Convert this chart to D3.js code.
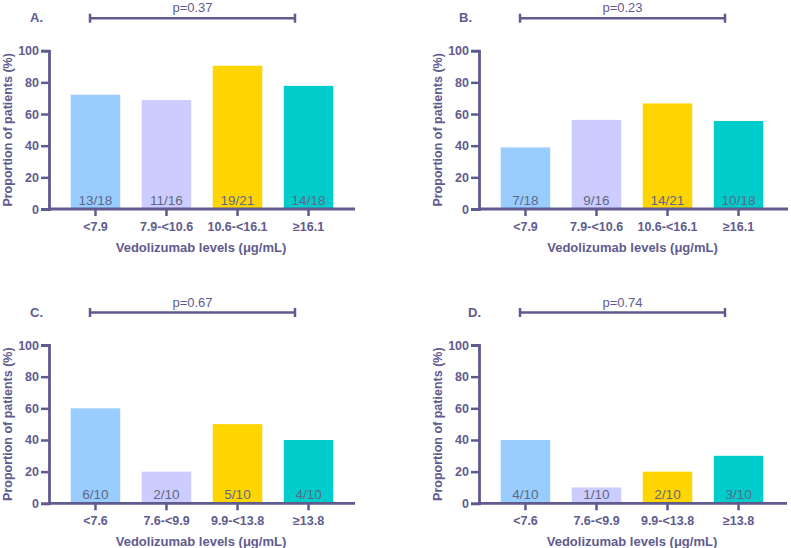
<!DOCTYPE html>
<html>
<head>
<meta charset="utf-8">
<script src="https://cdn.jsdelivr.net/npm/d3@7"></script>
<style>
  body { margin: 0; background: #fff; }
  svg { font-family: "Liberation Sans", Arial, sans-serif; }
</style>
</head>
<body>
<svg id="drawing_region" width="791" height="548"></svg>
<script>
// data
const catsAB = ["<7.9", "7.9-<10.6", "10.6-<16.1", "\u226516.1"];
const catsCD = ["<7.6", "7.6-<9.9", "9.9-<13.8", "\u226513.8"];
const fracA = ["13/18", "11/16", "19/21", "14/18"];
const fracB = ["7/18", "9/16", "14/21", "10/18"];
const fracC = ["6/10", "2/10", "5/10", "4/10"];
const fracD = ["4/10", "1/10", "2/10", "3/10"];
const valuesA = [72.2, 68.8, 90.5, 77.8];
const valuesB = [38.9, 56.3, 66.7, 55.6];
const valuesC = [60, 20, 50, 40];
const valuesD = [40, 10, 20, 30];
const pValues = ["p=0.37", "p=0.23", "p=0.67", "p=0.74"];
const panelLabels = ["A.", "B.", "C.", "D."];
const yTicks = [0, 20, 40, 60, 80, 100];
const colors = ["#99ccff", "#ccccff", "#ffd500", "#00cccc"];

const axisColor = "#5f5b8f";
const fracColor = "#5e6884";

const panels = [
  { label: panelLabels[0], cats: catsAB, values: valuesA, frac: fracA, p: pValues[0], x: 49,  y: 50.7, w: 306, lab: -19 },
  { label: panelLabels[1], cats: catsAB, values: valuesB, frac: fracB, p: pValues[1], x: 479, y: 50.7, w: 309, lab: -20 },
  { label: panelLabels[2], cats: catsCD, values: valuesC, frac: fracC, p: pValues[2], x: 49,  y: 345,  w: 306, lab: -19 },
  { label: panelLabels[3], cats: catsCD, values: valuesD, frac: fracD, p: pValues[3], x: 479, y: 345,  w: 308, lab: -11 }
];

const svg = d3.select("#drawing_region");
const plotH = 158.3;

panels.forEach(cfg => drawPanel(cfg));

function drawPanel(cfg) {
  const g = svg.append("g").attr("transform", `translate(${cfg.x},${cfg.y})`);

  const xScale = d3.scaleBand()
    .domain(cfg.cats)
    .range([0, 306])
    .paddingInner(0.303)
    .paddingOuter(0.306);
  const yScale = d3.scaleLinear().domain([0, 100]).range([plotH, 0]);

  const rows = cfg.cats.map((c, i) => ({ cat: c, value: cfg.values[i], frac: cfg.frac[i], color: colors[i] }));

  // bars
  g.selectAll(".bar")
    .data(rows)
    .enter()
    .append("rect")
    .attr("x", d => xScale(d.cat))
    .attr("y", d => yScale(d.value))
    .attr("width", xScale.bandwidth())
    .attr("height", d => yScale(0) - yScale(d.value))
    .attr("fill", d => d.color);

  // n/N labels
  g.selectAll(".frac")
    .data(rows)
    .enter()
    .append("text")
    .attr("x", d => xScale(d.cat) + xScale.bandwidth() / 2)
    .attr("y", yScale(0) - 4)
    .attr("text-anchor", "middle")
    .attr("font-size", "13.5px")
    .attr("fill", fracColor)
    .text(d => d.frac);

  // y axis
  const yAxis = g.append("g")
    .call(d3.axisLeft(yScale).tickValues(yTicks).tickSize(8).tickPadding(2));
  // x axis
  const xAxis = g.append("g")
    .attr("transform", `translate(0,${plotH})`)
    .call(d3.axisBottom(xScale).tickSize(7).tickPadding(6));
  xAxis.select(".domain").attr("d", `M0,0H${cfg.w}`);

  [yAxis, xAxis].forEach(a => {
    a.select(".domain").attr("stroke", axisColor).attr("stroke-width", 2.8);
    a.selectAll(".tick line").attr("stroke", axisColor).attr("stroke-width", 2.5);
    a.selectAll(".tick text")
      .attr("fill", axisColor)
      .attr("font-size", "12.5px")
      .attr("font-weight", "bold")
      .attr("font-family", "Liberation Sans, Arial, sans-serif");
  });

  // axis titles
  g.append("text")
    .attr("x", cfg.w / 2 - 1)
    .attr("y", plotH + 43)
    .attr("text-anchor", "middle")
    .attr("font-size", "13px")
    .attr("font-weight", "bold")
    .attr("fill", axisColor)
    .text("Vedolizumab levels (\u03bcg/mL)");

  g.append("text")
    .attr("transform", `translate(-37,${plotH / 2}) rotate(-90)`)
    .attr("text-anchor", "middle")
    .attr("font-size", "12.5px")
    .attr("font-weight", "bold")
    .attr("fill", axisColor)
    .text("Proportion of patients (%)");

  // significance bracket
  const bx0 = 41, bx1 = 246, by = -32.5;
  const br = g.append("g").attr("stroke", axisColor).attr("stroke-width", 2.5);
  br.append("line").attr("x1", bx0).attr("x2", bx1).attr("y1", by).attr("y2", by);
  br.append("line").attr("x1", bx0).attr("x2", bx0).attr("y1", by - 4.5).attr("y2", by + 4.5);
  br.append("line").attr("x1", bx1).attr("x2", bx1).attr("y1", by - 4.5).attr("y2", by + 4.5);

  g.append("text")
    .attr("x", (bx0 + bx1) / 2)
    .attr("y", by - 6)
    .attr("text-anchor", "middle")
    .attr("font-size", "13px")
    .attr("fill", axisColor)
    .text(cfg.p);

  g.append("text")
    .attr("x", cfg.lab)
    .attr("y", by + 4)
    .attr("font-size", "13px")
    .attr("font-weight", "bold")
    .attr("fill", axisColor)
    .text(cfg.label);
}
</script>
</body>
</html>
